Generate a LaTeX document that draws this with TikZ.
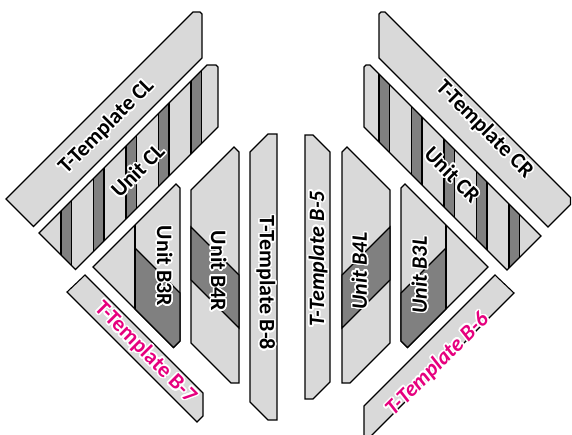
\documentclass[tikz,border=0pt]{standalone}
\usepackage{fontspec}
\setmainfont{Carlito}
\usepackage{contour}
\contourlength{1.5pt}
\contournumber{24}

\definecolor{partgray}{RGB}{217,217,217}
\definecolor{coregray}{RGB}{128,128,128}
\definecolor{tmagenta}{RGB}{230,0,126}

\tikzset{
    part/.style={draw=black, fill=partgray, line width=1.1pt, line join=miter},
    core/.style={draw=black, fill=coregray, line width=1.1pt},
    outline/.style={draw=black, line width=1.1pt},
    tag/.style={font=\fontsize{22}{24}\selectfont\bfseries, inner sep=0pt},
    tagit/.style={tag, font=\fontsize{22}{24}\selectfont\bfseries\itshape},
    tagpink/.style={tag, text=tmagenta},
    tagpinkit/.style={tagit, text=tmagenta},
}

\newcommand{\halo}[1]{\contour{white}{#1}}
\newcommand{\uclpath}{(39,233) -- (207,65) -- (216,65) -- (218,67) -- (218,127) -- (75.5,269.5) -- cycle}
\newcommand{\ucrpath}{(364,127) -- (364,67) -- (366,65) -- (370,65) -- (541,236) -- (507,270) -- cycle}

\begin{document}
\begin{tikzpicture}[x=1pt,y=-1pt]

    \useasboundingbox (0,0) rectangle (572,434);
    \clip (0,0) rectangle (572,434);

    % Top templates
    \draw[part] (6,199) -- (193,12) -- (200,12) -- (202,14) -- (202,58)
        -- (33.5,226.5) -- cycle;
    \draw[part] (379,58) -- (379,14) -- (381,12) -- (385,12)
        -- (570.5,197.5) -- (570.5,204.5) -- (548,227) -- cycle;

    % Striped units
    \fill[partgray] \uclpath;
    \begin{scope}
        \clip \uclpath;
        \foreach \sx in {61,93.5,126,158.5,191}
            \draw[core] (\sx,0) rectangle (\sx+10.5,434);
    \end{scope}
    \draw[outline] \uclpath;

    \fill[partgray] \ucrpath;
    \begin{scope}
        \clip \ucrpath;
        \foreach \sx in {379,411.5,444,476.5,509}
            \draw[core] (\sx,0) rectangle (\sx+10.5,434);
    \end{scope}
    \draw[outline] \ucrpath;

    % Unit B3R
    \draw[part] (93,267) -- (176,184) -- (180,188) -- (180,341)
        -- (173.5,347.5) -- cycle;
    \draw[core] (135,248) -- (180,293) -- (180,341) -- (173.5,347.5)
        -- (135,309) -- cycle;
    \draw[outline] (135,225) -- (135,309);

    % Unit B4R
    \draw[part] (191,190) -- (234,147) -- (239,152) -- (239,383)
        -- (231,383) -- (191,343) -- cycle;
    \draw[core] (191,227) -- (239,275) -- (239,328) -- (191,280) -- cycle;

    % Bars B-8 and B-5
    \draw[part] (250,152) -- (268,134) -- (277,134) -- (277,420)
        -- (268,420) -- (250,402) -- cycle;
    \draw[part] (305,135) -- (313,135) -- (330,152) -- (330,382)
        -- (313,399) -- (305,399) -- cycle;

    % Unit B4L
    \draw[part] (390,190) -- (347,147) -- (342,152) -- (342,383)
        -- (350,383) -- (390,343) -- cycle;
    \draw[core] (390,227) -- (342,275) -- (342,328) -- (390,280) -- cycle;

    % Unit B3L
    \draw[part] (488,267) -- (405,184) -- (401,188) -- (401,341)
        -- (407.5,347.5) -- cycle;
    \draw[core] (446,248) -- (401,293) -- (401,341) -- (407.5,347.5)
        -- (446,309) -- cycle;
    \draw[outline] (446,225) -- (446,309);

    % Lower templates
    \draw[part] (67,292) -- (85,275) -- (203,393) -- (203,416)
        -- (197,422) -- cycle;
    \draw[part] (495,275) -- (514,293) -- (364,443) -- (364,406) -- cycle;

    % Labels
    \node[tag, rotate=45] (lblTCL) at (107,127) {\halo{T-Template CL}};
    \node[tag, rotate=45] (lblUCL) at (138,171) {\halo{Unit CL}};
    \node[tag, rotate=-45] (lblTCR) at (484,130) {\halo{T-Template CR}};
    \node[tag, rotate=-45] (lblUCR) at (452,175) {\halo{Unit CR}};
    \node[tag, rotate=-90] (lblB3R) at (164,266) {\halo{Unit B3R}};
    \node[tag, rotate=-90] (lblB4R) at (218,271) {\halo{Unit B4R}};
    \node[tag, rotate=-90] (lblTB8) at (265,283) {\halo{T-Template B-8}};
    \node[tagit, rotate=90] (lblTB5) at (319,259) {\halo{T-Template B-5}};
    \node[tagit, rotate=90] (lblB4L) at (360,271) {\halo{Unit B4L}};
    \node[tagit, rotate=90] (lblB3L) at (420,275) {\halo{Unit B3L}};
    \node[tagpink, rotate=-45] (lblTB7) at (145,353) {\halo{T-Template B-7}};
    \node[tagpinkit, rotate=45] (lblTB6) at (438,365) {\halo{T-Template B-6}};

\end{tikzpicture}
\end{document}
